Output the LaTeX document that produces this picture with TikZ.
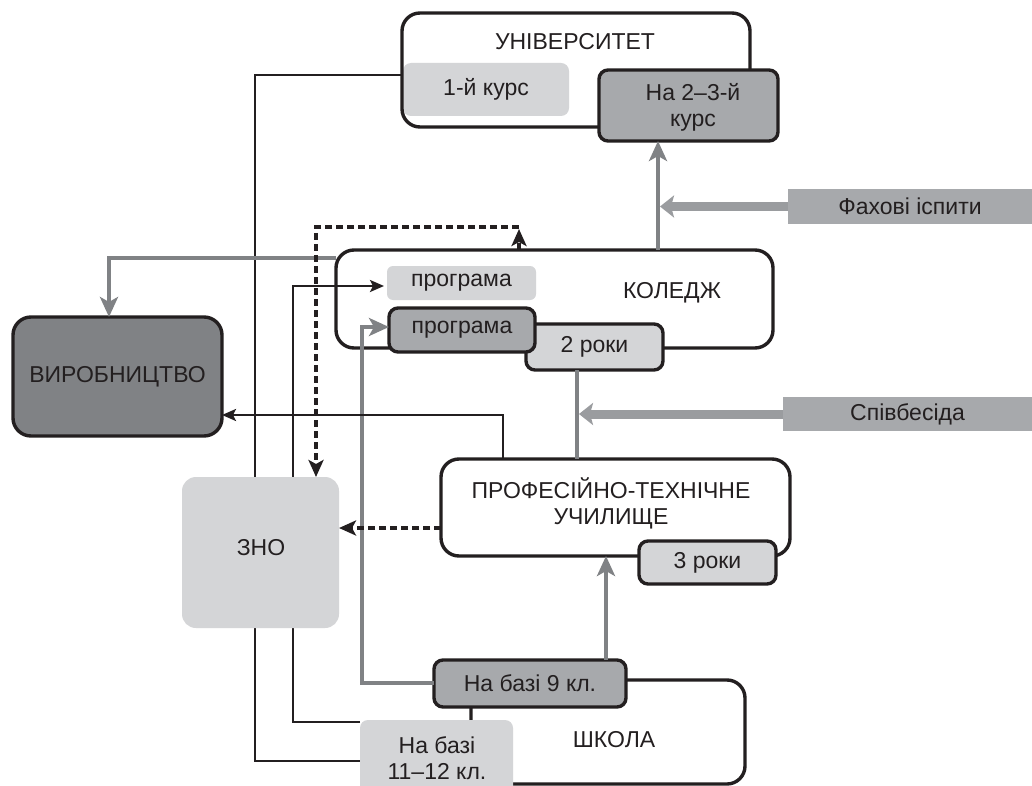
\documentclass[tikz,border=0pt]{standalone}
\usepackage{fontspec}
\setmainfont{Liberation Sans}
\usetikzlibrary{arrows.meta}
\definecolor{txt}{HTML}{231F20}
\definecolor{dkgray}{HTML}{808285}
\definecolor{mdgray}{HTML}{A7A9AC}
\definecolor{ltgray}{HTML}{D4D5D7}
\definecolor{fatgray}{HTML}{9A9C9F}
\begin{document}
\begin{tikzpicture}[x=1pt,y=-1pt,
  every node/.style={inner sep=0pt, outer sep=0pt, text=txt, font=\fontsize{23}{26}\selectfont, align=center},
  bigbox/.style={draw=txt, line width=3.4pt, rounded corners=18pt, fill=white},
  bigline/.style={draw=txt, line width=3.4pt, rounded corners=18pt},
  tagbox/.style={draw=txt, line width=3.4pt, rounded corners=9pt},
  softbox/.style={fill=ltgray, rounded corners=8pt},
  examtag/.style={fill=mdgray},
  blk/.style={draw=txt, line width=2.4pt},
  blkarrow/.style={blk, -{Stealth[length=14pt,width=12pt,inset=3pt]}},
  gry/.style={draw=dkgray, line width=4pt},
  gryarrow/.style={gry, -{Stealth[length=20pt,width=18pt,inset=5pt]}},
  fatarrow/.style={draw=fatgray, line width=9pt, -{Stealth[length=14pt,width=22pt,inset=3pt]}},
  dots/.style={draw=txt, line width=3.2pt, dash pattern=on 7pt off 4pt},
  dotarrow/.style={dots, -{Stealth[length=17pt,width=15pt,inset=4pt]}},
]
\useasboundingbox (0,0) rectangle (1032,786);
\fill[white] (0,0) rectangle (1032,786);

% helper levels
\coordinate (c75) at (0,75);
\coordinate (c761) at (0,761);
\coordinate (c722) at (0,722);
\coordinate (c286) at (0,286);
\coordinate (c683) at (0,683);
\coordinate (c327) at (0,327);
\coordinate (c258) at (0,258);
\coordinate (c415) at (0,415);
\coordinate (c528) at (0,528);
\coordinate (c519) at (519,0);
\coordinate (c316) at (316,0);
\coordinate (c109) at (109,0);
\coordinate (c503) at (503,0);
\coordinate (c658) at (658,0);
\coordinate (c577) at (577,0);
\coordinate (c606) at (606,0);

% university
\node[fill=white, rounded corners=18pt, minimum width=348pt, minimum height=114pt] (uni) at (576,70) {};
\node[softbox, minimum width=166pt, minimum height=53pt] (kurs1) at (486,89.5) {1-й курс};
\draw[bigline] (uni.north west) rectangle (uni.south east);
\node (unitext) at (575,42) {УНІВЕРСИТЕТ};
\node[tagbox, fill=mdgray, minimum width=179pt, minimum height=71pt] (kurs23) at (688.5,105.5) {};
\node (kurs23text) at (693,107) {На 2–3-й\\курс};

% college
\node[bigbox, minimum width=437pt, minimum height=98pt] (college) at (554.5,299) {};
\node (collegetext) at (672,293) {КОЛЕДЖ};
\node[softbox, rounded corners=6pt, minimum width=149pt, minimum height=34pt] (prog1) at (461.5,283) {програма};
\node[tagbox, fill=ltgray, minimum width=137pt, minimum height=46pt] (roky2) at (594.5,347) {2 роки};
\node[tagbox, fill=mdgray, minimum width=146pt, minimum height=44pt] (prog2) at (462,330) {програма};

% production
\node[bigbox, fill=dkgray, minimum width=209pt, minimum height=119pt] (vyr) at (117.5,376.5) {ВИРОБНИЦТВО};

% exam tags
\node[examtag, minimum width=244pt, minimum height=35pt] (fah) at (910,206.5) {Фахові іспити};
\node[examtag, minimum width=249pt, minimum height=34pt] (spiv) at (907.5,414) {Співбесіда};

% vocational school
\node[bigbox, minimum width=349pt, minimum height=97pt] (ptu) at (615.5,507.5) {};
\node (ptutext) at (611,503) {ПРОФЕСІЙНО-ТЕХНІЧНЕ\\УЧИЛИЩЕ};
\node[tagbox, fill=ltgray, minimum width=137pt, minimum height=43pt] (roky3) at (707.5,562.5) {3 роки};

% school
\node[bigbox, minimum width=274pt, minimum height=104pt] (school) at (608,732) {};
\node (schooltext) at (614,740) {ШКОЛА};
\node[tagbox, fill=mdgray, minimum width=192pt, minimum height=47pt] (baza9) at (530,683.5) {На базі 9 кл.};
\node[softbox, minimum width=153pt, minimum height=80pt] (baza11) at (436.5,760) {};
\node (baza11text) at (437,758) {На базі\\11–12 кл.};

% lines passing behind ZNO
\draw[blk] (uni.west |- c75) -- (255,75) -- (255,761) -- (baza11.west |- c761);
\draw[blkarrow, shorten >=3pt] (baza11.west |- c722) -- (293,722) -- (293,286) -- (prog1.west |- c286);

% ZNO
\node[softbox, rounded corners=14pt, minimum width=157pt, minimum height=151pt] (zno) at (260.5,552.5) {};
\node (znotext) at (261,548) {ЗНО};

% connectors
\draw[gryarrow, line width=3.6pt] (baza9.west |- c683) -- (362,683) -- (362,327) -- (prog2.west |- c327);
\draw[gryarrow] (college.west |- c258) -- (109,258) -- (vyr.north -| c109);
\draw[blkarrow] (ptu.north -| c503) -- (503,415) -- (vyr.east |- c415);
\draw[dotarrow] (college.north -| c519) -- (519,229);
\draw[dotarrow] (519,227) -- (316,227) -- (zno.north -| c316);
\draw[dotarrow] (ptu.west |- c528) -- (zno.east |- c528);
\draw[gryarrow] (college.north -| c658) -- (kurs23.south -| c658);
\coordinate (fahtip) at (660,206.5);
\draw[fatarrow] (fah.west) -- (fahtip);
\draw[gry] (roky2.south -| c577) -- (ptu.north -| c577);
\coordinate (spivtip) at (579,414);
\draw[fatarrow] (spiv.west) -- (spivtip);
\draw[gryarrow] (baza9.north -| c606) -- (ptu.south -| c606);
\end{tikzpicture}
\end{document}
